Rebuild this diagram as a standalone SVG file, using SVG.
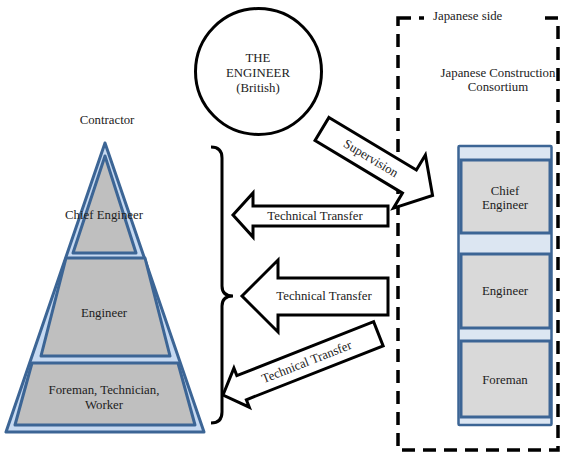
<svg xmlns="http://www.w3.org/2000/svg" width="561" height="452" viewBox="0 0 561 452">
<style>
text{font-size:12.8px;fill:#222;text-anchor:middle}
.blk{fill:#fff;stroke:#000;stroke-width:3;stroke-linejoin:miter}
.pyr{fill:#bfbfbf;stroke:#3c6595;stroke-width:3;stroke-linejoin:round}
.box{fill:#d9d9d9;stroke:#3c6595;stroke-width:3}
</style>
<rect width="561" height="452" fill="#fff"/>
<g font-family="'Liberation Serif', 'Times New Roman', 'DejaVu Serif', serif">
<g id="japanese-side">
<rect x="398" y="18" width="160" height="432" fill="none" stroke="#000" stroke-width="3.5" stroke-dasharray="13 8"/>
<rect x="424" y="8" width="118" height="20" fill="#fff"/>
<text x="433" y="20" style="text-anchor:start">Japanese side</text>
<text x="498" y="77">Japanese Construction</text>
<text x="498" y="91">Consortium</text>
</g>

<g id="engineer">
<circle cx="258.5" cy="71.5" r="63" fill="#fff" stroke="#000" stroke-width="3"/>
<text x="258" y="62">THE</text>
<text x="258" y="77">ENGINEER</text>
<text x="258" y="92">(British)</text>
</g>

<g id="contractor">
<text x="107" y="124">Contractor</text>
<polygon points="105,143 6,432 204,432" fill="#c6d9f1" stroke="#3c6595" stroke-width="3" stroke-linejoin="round"/>
<polygon class="pyr" points="105,156 73,253 136,253"/>
<polygon class="pyr" points="66,258 145,258 170,356 41,356"/>
<polygon class="pyr" points="32,363 178,363 195,425 15,425"/>
<text x="104" y="219">Chief Engineer</text>
<text x="104" y="317">Engineer</text>
<text x="104" y="394">Foreman, Technician,</text>
<text x="104" y="409">Worker</text>
</g>

<g id="consortium">
<rect x="458.5" y="146" width="93" height="279" fill="#dce6f2" stroke="#3c6595" stroke-width="2.5" rx="1"/>
<rect class="box" x="461" y="160" width="89" height="73"/>
<rect class="box" x="461" y="254" width="89" height="74"/>
<rect class="box" x="461" y="341" width="89" height="76"/>
<text x="505" y="195">Chief</text>
<text x="505" y="209">Engineer</text>
<text x="505" y="295">Engineer</text>
<text x="505" y="384">Foreman</text>
</g>

<g id="connectors">
<path d="M211,147 Q222,147 222,158 L222,286 Q222,296 233,296 Q222,296 222,306 L222,412 Q222,423 211,423" fill="none" stroke="#000" stroke-width="3"/>
<polygon class="blk" points="233,215 253,193 253,206 388,206 388,226 253,226 253,237"/>
<text x="315" y="220">Technical Transfer</text>
<polygon class="blk" points="242,296 278,260 278,278 388,278 388,315 278,315 278,332"/>
<text x="324" y="300">Technical Transfer</text>
<g transform="translate(223,395) rotate(-21.5)">
<polygon class="blk" points="0,0 20,-21 20,-13 167,-13 167,13 20,13 20,21"/>
<text x="90" y="4">Technical Transfer</text>
</g>
<g transform="translate(322,129) rotate(31)">
<polygon class="blk" points="0,-13.5 102,-13.5 102,-31 129,0 102,31 102,13.5 0,13.5"/>
<text x="57" y="4">Supervision</text>
</g>
</g>
</g>
</svg>
